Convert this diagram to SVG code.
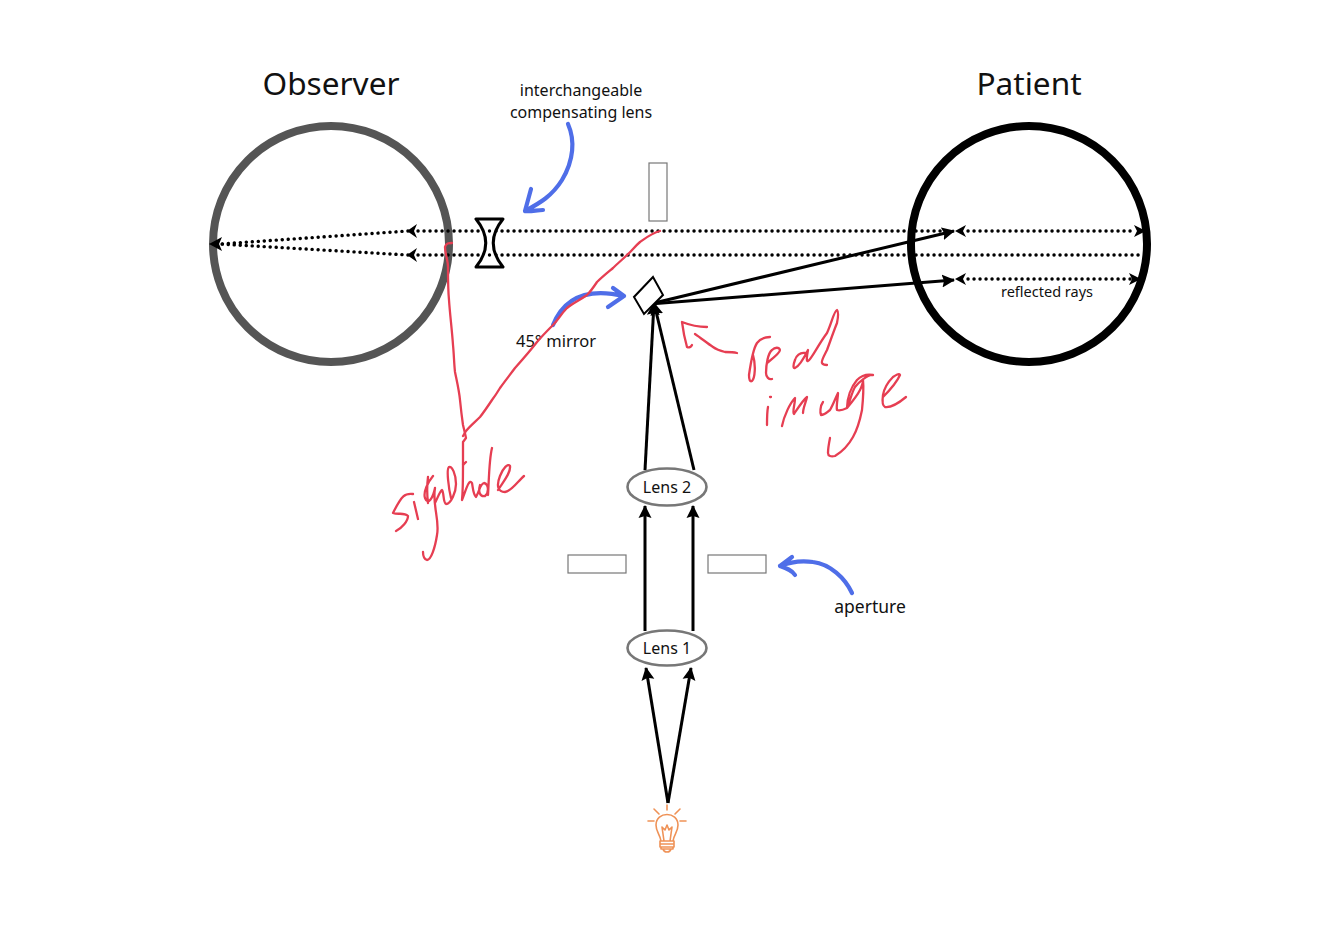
<svg xmlns="http://www.w3.org/2000/svg" width="1334" height="934" viewBox="0 0 1334 934">
<style>
text{font-family:"Noto Sans","Open Sans",sans-serif;fill:#111;text-anchor:middle}
.ray{fill:none;stroke:#000;stroke-width:3}
.dot{fill:none;stroke:#000;stroke-width:3.4;stroke-linecap:round;stroke-dasharray:.1 5.9}
.box{fill:#fff;stroke:#777;stroke-width:1.2}
.ell{fill:#fff;stroke:#777;stroke-width:2.6}
.blue{fill:none;stroke:#4f6ee8;stroke-width:4.200;stroke-linecap:round;stroke-linejoin:round}
.red{fill:none;stroke:#e63e52;stroke-width:2.300;stroke-linecap:round;stroke-linejoin:round}
.bulb{fill:none;stroke:#ef9257;stroke-width:1.6;stroke-linecap:round;stroke-linejoin:round}
</style>
<defs>
<marker id="a" markerUnits="userSpaceOnUse" markerWidth="16" markerHeight="16" refX="12" refY="7" orient="auto"><path d="M0 0.500L13 7L0 13.500L2 7Z" fill="#000"/></marker>
</defs>
<g id="observer"><circle cx="331" cy="244" r="118" fill="#fff" stroke="#555" stroke-width="8"/><text x="331" y="95" font-size="31.600">Observer</text></g>
<g id="patient"><circle cx="1029" cy="244" r="118" fill="#fff" stroke="#000" stroke-width="8"/><text x="1029" y="95" font-size="31.600">Patient</text></g>
<g id="connectors">
<path class="dot" d="M418 231H945"/><path class="dot" d="M418 255H1142"/>
<path class="dot" d="M968 231H1136"/><path class="dot" d="M968 279H1131"/>
<path class="dot" d="M408 231L220 244"/><path class="dot" d="M408 255L220 244"/>
<path d="M417 224L407 231L417 238L414 231ZM417 248L407 255L417 262L414 255ZM222 237L209 244L222 251L219 244Z" fill="#000"/>
<path d="M1134 225L1146 231L1134 237L1137 231ZM1129 273L1141 279L1129 285L1132 279Z" fill="#000"/>
<path d="M966 225L955 231L966 237L963 231ZM966 273L955 279L966 285L963 279Z" fill="#000"/>
<path class="ray" marker-end="url(#a)" d="M668 803L646 668"/>
<path class="ray" marker-end="url(#a)" d="M668 803L691 668"/>
<path class="ray" marker-end="url(#a)" d="M645 631V506"/>
<path class="ray" marker-end="url(#a)" d="M693 631V506"/>
<path class="ray" marker-end="url(#a)" d="M645 470L654 303"/>
<path class="ray" marker-end="url(#a)" d="M694 470L654 303"/>
<path class="ray" marker-end="url(#a)" d="M650 304L954 231"/>
<path class="ray" marker-end="url(#a)" d="M650 304L954 280"/>
</g>
<g id="compensating-lens"><path d="M476 219H503C490 235 490 251 503 267H476C489 251 489 235 476 219Z" fill="#fff" stroke="#000" stroke-width="3" stroke-linejoin="round"/><path class="dot" d="M489.500 231V232M489.500 255V256"/><text x="581" y="96" font-size="16">interchangeable</text><text x="581" y="118" font-size="16">compensating lens</text></g>
<g id="sight-aperture"><rect class="box" x="649" y="163" width="18" height="58"/></g>
<g id="mirror"><path d="M653 277L663 295L644 314L634 297Z" fill="#fff" stroke="#000" stroke-width="2"/><text x="556" y="347" font-size="16.500">45° mirror</text></g>
<g id="aperture"><rect class="box" x="568" y="555" width="58" height="18"/><rect class="box" x="708" y="555" width="58" height="18"/><text x="870" y="613" font-size="17.500">aperture</text></g>
<g id="lens-2"><ellipse class="ell" cx="667" cy="487" rx="39.500" ry="18.500"/><text x="667" y="493" font-size="16">Lens 2</text></g>
<g id="lens-1"><ellipse class="ell" cx="667" cy="648" rx="39.500" ry="17.500"/><text x="667" y="654" font-size="16">Lens 1</text></g>
<g id="reflected"><text x="1047" y="297" font-size="14.500">reflected rays</text></g>
<g id="bulb"><path class="bulb" d="M667 805V810M654 809L659 814M680 809L675 814M648 821H654M680 821H686M661 841C660 834 656 832 656 825C656 811 678 811 678 825C678 832 674 834 673 841ZM664 841L662 827L665 830L667 825L669 830L672 827L670 841M660 841H674V844H660ZM660 844V847H674V844M661 847V849H673V847M663 849C664 853 670 853 671 849"/></g>
<g id="blue-arrows">
<path class="blue" d="M568 124C575 140 574 160 562 180C552 196 540 203 525 211M525 211L531 189M525 211C530 212 537 210 543 210"/>
<path class="blue" d="M553 325C565 295 590 288 624 296M624 296L608 307M624 296L613 288"/>
<path class="blue" d="M852 593C845 578 830 564 813 562C800 560 790 562 780 566M780 566L792 557M780 566C786 568 792 570 795 575"/>
</g>
<g id="red-notes">
<path class="red" d="M660 231C652 233 647 237 640 242C634 247 632 251 627 255C622 260 618 263 613 268C607 273 602 277 597 282C593 288 591 291 587 295C580 300 573 303 567 308C561 314 558 320 553 325C547 331 542 336 537 342C530 351 523 359 515 368C509 376 505 381 500 388C497 393 495 396 492 400C488 406 484 412 480 417C475 422 470 426 466 431L463 436"/>
<path class="red" d="M452 243C449 243 446 243 445 247C445 254 448 260 448 267C448 280 448 290 449 300C450 315 452 330 453 345C454 355 454 363 455 372C457 382 459 390 460 400C461 410 462 418 463 425C464 429 465 433 466 438L463 442C463 450 463 458 463 465L466 462"/>
<path class="red" d="M413 494C405 493 402 495 393 513C398 515 404 512 408 516C408 521 402 528 396 531M414 502L418 519M433 476C428 482 423 492 425 498C428 506 433 498 435 488C432 505 440 520 437 535C435 548 431 560 427 560C424 559 423 556 423 552M428 477C427 485 427 495 428 503M435 503C438 497 440 491 442 490C444 492 443 503 446 504C451 504 456 492 456 484C456 474 452 466 449 467C446 469 449 490 451 498M463 465C463 478 463 490 462 500C466 490 469 478 472 483C473 488 473 494 476 497C480 490 480 484 484 483C489 484 489 493 485 496C480 497 478 492 480 485M488 495C489 480 489 460 492 448M498 490C503 482 511 473 510 466C508 463 503 468 500 476C496 486 498 492 505 492C512 491 518 481 524 476"/>
<path class="red" d="M770 337C763 337 760 339 757 343C753 349 751 361 749 375C749 380 750 382 752 381C755 378 756 365 753 355M767 363C772 359 780 353 780 350C779 347 775 347 772 350C768 353 766 365 766 373C766 377 769 380 772 379M805 353C800 352 796 356 795 360C793 365 793 369 795 368C800 366 805 356 808 350C807 355 806 362 808 361C811 360 818 345 827 333C832 322 834 311 837 310C839 312 838 318 837 323C833 333 830 342 827 350C824 356 821 361 822 363C823 365 825 365 827 365"/>
<path class="red" d="M767 425C767 418 767 412 768 407M770 397L771 397M782 426C784 416 790 403 795 398C795 405 792 412 794 414C798 408 803 400 807 397C806 402 803 408 803 413M823 402C820 406 820 413 821 415C825 415 827 412 830 410C833 405 836 397 838 393C838 398 836 406 837 410C840 411 843 410 847 408C850 401 852 392 855 387C858 383 868 374 873 375C868 374 862 375 857 380C851 387 847 398 847 408C852 402 858 394 860 390C862 386 863 381 863 380C864 390 863 400 862 410C860 420 857 430 853 437C848 446 840 453 835 456C831 457 828 456 828 453C828 449 829 443 830 438"/>
<path class="red" d="M883 397C889 391 896 384 900 375C899 373 896 375 893 377C888 382 884 389 883 395C882 402 883 406 885 407C892 408 900 402 906 397"/>
<path class="red" d="M707 327C698 327 692 326 682 322C683 330 685 340 687 347C689 348 691 347 692 345M695 334C701 338 707 343 713 347C717 350 721 351 725 352C729 352 733 352 737 353"/>
</g>
</svg>
